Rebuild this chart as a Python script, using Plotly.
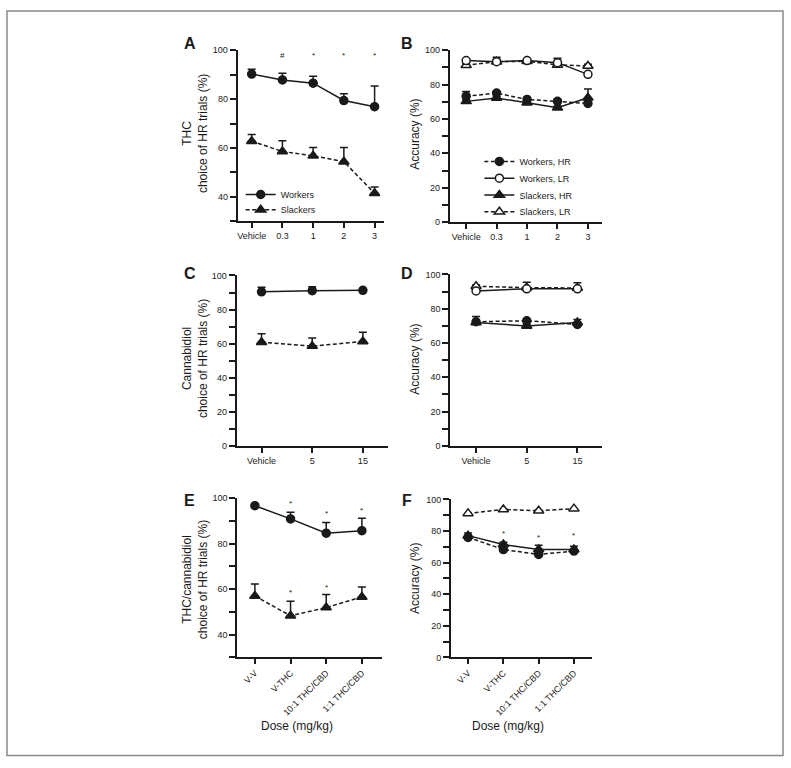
import plotly.graph_objects as go

W, H = 791, 768

# ---------------- data ----------------
thc_doses = ["Vehicle", "0.3", "1", "2", "3"]
a_workers = [90.2, 87.8, 86.5, 79.4, 76.9]
a_workers_err = [2.0, 2.7, 2.8, 2.8, 8.4]
a_slackers = [62.8, 58.6, 56.8, 54.4, 41.5]
a_slackers_err = [2.7, 4.4, 3.4, 5.8, 2.6]
a_sig = ["#", "*", "*", "*"]
a_sig_doses = ["0.3", "1", "2", "3"]

b_workers_hr = [73.2, 75.0, 71.3, 70.2, 69.0]
b_workers_hr_err = [2.7, 1.0, 1.0, 1.2, 0.0]
b_workers_lr = [93.9, 93.3, 93.9, 92.7, 85.9]
b_workers_lr_err = [0.8, 2.5, 1.0, 2.5, 0.0]
b_slackers_hr = [70.2, 72.1, 69.4, 66.5, 72.3]
b_slackers_hr_err = [1.0, 1.0, 1.0, 1.0, 5.1]
b_slackers_lr = [91.2, 93.3, 93.5, 91.4, 90.8]
b_slackers_lr_err = [1.0, 1.2, 1.0, 1.5, 1.0]

cbd_doses = ["Vehicle", "5", "15"]
c_workers = [90.4, 91.1, 91.3]
c_workers_err = [2.7, 2.3, 0.0]
c_slackers = [60.9, 58.6, 61.3]
c_slackers_err = [5.0, 4.8, 5.4]

d_workers_lr = [90.4, 91.6, 91.6]
d_slackers_lr = [93.1, 92.3, 92.1]
d_slackers_lr_err = [0.8, 3.1, 3.1]
d_workers_hr = [72.4, 73.0, 70.8]
d_slackers_hr = [72.0, 69.9, 72.0]
d_slackers_hr_err = [3.4, 1.0, 1.7]

combo = ["V-V", "V-THC", "10:1 THC/CBD", "1:1 THC/CBD"]
e_workers = [96.7, 90.9, 84.6, 85.7]
e_workers_err = [0.0, 2.9, 4.7, 5.5]
e_slackers = [57.0, 48.3, 51.9, 56.6]
e_slackers_err = [5.3, 6.4, 5.7, 4.4]
e_sig_w = ["V-THC", "10:1 THC/CBD", "1:1 THC/CBD"]
e_sig_w_y = [97.7, 93.1, 94.8]
e_sig_s = ["V-THC", "10:1 THC/CBD"]
e_sig_s_y = [58.4, 60.7]

f_slackers_lr = [91.2, 93.7, 92.9, 94.2]
f_workers_hr = [76.0, 68.3, 65.2, 67.3]
f_slackers_hr = [77.1, 71.5, 68.3, 68.3]
f_slackers_hr_err = [1.6, 1.4, 2.7, 2.1]
f_sig = ["V-THC", "10:1 THC/CBD", "1:1 THC/CBD"]
f_sig_y = [78.7, 76.0, 77.3]

# ---------------- helpers ----------------
FONT = "Liberation Sans, Arial, Helvetica, sans-serif"
BLACK = "#1a1a1a"
DASH = "4px,2.5px"


def px2x(p):
    return p / W


def px2y(p):
    return 1 - p / H


def dx(p0, p1):
    return [px2x(p0), px2x(p1)]


def dy(top, bottom):
    return [px2y(bottom), px2y(top)]


fig = go.Figure()


def add(xa, ya, x, y, err=None, filled=True, symbol="circle", dash="solid",
        size=8):
    mk = dict(symbol=symbol, size=size,
              color=BLACK if filled else "white",
              line=dict(color=BLACK, width=1.5))
    ey = None
    if err is not None:
        ey = dict(type="data", symmetric=False, array=err,
                  arrayminus=[0] * len(err), color=BLACK, thickness=1.5, width=4)
    fig.add_trace(go.Scatter(
        x=x, y=y, mode="lines+markers", xaxis=xa, yaxis=ya,
        line=dict(color=BLACK, width=1.5, dash=dash), marker=mk, error_y=ey,
        showlegend=False, cliponaxis=False, hoverinfo="skip"))


# Panel A
add("x", "y", thc_doses, a_workers, a_workers_err, True, "circle", "solid")
add("x", "y", thc_doses, a_slackers, a_slackers_err, True, "triangle-up", DASH, size=9)
# Panel B
add("x2", "y2", thc_doses, b_slackers_lr, b_slackers_lr_err, False, "triangle-up", DASH, size=9)
add("x2", "y2", thc_doses, b_workers_lr, b_workers_lr_err, False, "circle", "solid")
add("x2", "y2", thc_doses, b_slackers_hr, b_slackers_hr_err, True, "triangle-up", "solid", size=9)
add("x2", "y2", thc_doses, b_workers_hr, b_workers_hr_err, True, "circle", DASH)
# Panel C
add("x3", "y3", cbd_doses, c_workers, c_workers_err, True, "circle", "solid")
add("x3", "y3", cbd_doses, c_slackers, c_slackers_err, True, "triangle-up", DASH, size=9)
# Panel D
add("x4", "y4", cbd_doses, d_slackers_lr, d_slackers_lr_err, False, "triangle-up", DASH, size=9)
add("x4", "y4", cbd_doses, d_workers_lr, None, False, "circle", "solid")
add("x4", "y4", cbd_doses, d_slackers_hr, d_slackers_hr_err, True, "triangle-up", "solid", size=9)
add("x4", "y4", cbd_doses, d_workers_hr, None, True, "circle", DASH)
# Panel E
add("x5", "y5", combo, e_workers, e_workers_err, True, "circle", "solid")
add("x5", "y5", combo, e_slackers, e_slackers_err, True, "triangle-up", DASH, size=9)
# Panel F
add("x6", "y6", combo, f_slackers_lr, None, False, "triangle-up", DASH, size=9)
add("x6", "y6", combo, f_slackers_hr, f_slackers_hr_err, True, "triangle-up", "solid", size=9)
add("x6", "y6", combo, f_workers_hr, None, True, "circle", DASH)

# ---------------- legends (one legend box per entry) ----------------
legend_entries = [
    # name, filled, symbol, dash, legend id, x px, y px, axis
    ("Workers", True, "circle", "solid", "legend", 240, 192, "x"),
    ("Slackers", True, "triangle-up", DASH, "legend3", 240, 207.5, "x"),
    ("Workers, HR", True, "circle", DASH, "legend2", 479, 158.5, "x2"),
    ("Workers, LR", False, "circle", "solid", "legend4", 479, 175.5, "x2"),
    ("Slackers, HR", True, "triangle-up", "solid", "legend5", 479, 192.5, "x2"),
    ("Slackers, LR", False, "triangle-up", DASH, "legend6", 479, 209.5, "x2"),
]
legend_layout = {}
for nm, filled, sym, ds, lid, lx, ly, xa in legend_entries:
    fig.add_trace(go.Scatter(
        x=[None], y=[None], mode="lines+markers", xaxis=xa,
        yaxis=xa.replace("x", "y"),
        line=dict(color=BLACK, width=1.5, dash=ds),
        marker=dict(symbol=sym, size=8 if sym == "circle" else 9,
                    color=BLACK if filled else "white",
                    line=dict(color=BLACK, width=1.5)),
        name=nm, legend=lid, showlegend=True))
    legend_layout[lid] = dict(
        x=px2x(lx), y=px2y(ly), xanchor="left", yanchor="middle",
        bgcolor="rgba(0,0,0,0)", font=dict(family=FONT, size=9, color=BLACK),
        tracegroupgap=0, itemwidth=30, borderwidth=0)

# ---------------- axes ----------------
tickfont = dict(family=FONT, size=9, color="#222")


def yax(domain, rng, major, anchor):
    return dict(domain=domain, range=rng, tickvals=major, ticks="outside",
                ticklen=6, tickwidth=1.5, tickcolor=BLACK, showline=True,
                linewidth=2, linecolor=BLACK, showgrid=False, zeroline=False,
                tickfont=tickfont, anchor=anchor, fixedrange=True,
                minor=dict(dtick=10, tick0=0, ticks="outside", ticklen=6,
                           tickwidth=1.5, tickcolor=BLACK, showgrid=False))


def xax(domain, rng, anchor, angle=0):
    return dict(domain=domain, range=rng, type="category", ticks="outside",
                ticklen=5, tickwidth=1.5, tickcolor=BLACK, showline=True,
                linewidth=2, linecolor=BLACK, showgrid=False, zeroline=False,
                tickfont=tickfont, anchor=anchor, tickangle=angle,
                fixedrange=True)


fig.update_layout(
    xaxis=xax(dx(237, 383), [-0.455, 4.29], "y"),
    yaxis=yax(dy(45.7, 219.3), [30, 100], [40, 60, 80, 100], "x"),
    xaxis2=xax(dx(449.3, 601.7), [-0.54, 4.46], "y2"),
    yaxis2=yax(dy(45.7, 220), [0, 100], [0, 20, 40, 60, 80, 100], "x2"),
    xaxis3=xax(dx(236, 387.7), [-0.49, 2.5], "y3"),
    yaxis3=yax(dy(274, 447), [0, 100], [0, 20, 40, 60, 80, 100], "x3"),
    xaxis4=xax(dx(450, 602), [-0.506, 2.49], "y4"),
    yaxis4=yax(dy(273, 446.7), [0, 100], [0, 20, 40, 60, 80, 100], "x4"),
    xaxis5=xax(dx(236.7, 381.7), [-0.49, 3.57], "y5", -45),
    yaxis5=yax(dy(499.7, 661), [30, 100], [40, 60, 80, 100], "x5"),
    xaxis6=xax(dx(450.7, 591.7), [-0.48, 3.51], "y6", -45),
    yaxis6=yax(dy(501, 661), [0, 100], [0, 20, 40, 60, 80, 100], "x6"),
)

annotations = []


def pa(px, py, text, size=12, angle=0):
    annotations.append(dict(
        x=px2x(px), y=px2y(py), xref="paper", yref="paper", text=text,
        showarrow=False, textangle=angle, xanchor="center", yanchor="middle",
        font=dict(family=FONT, size=size, color=BLACK)))


# panel letters
for letter, px, py in [("<b>A</b>", 189, 39), ("<b>B</b>", 407, 39),
                       ("<b>C</b>", 189, 272), ("<b>D</b>", 407, 272),
                       ("<b>E</b>", 189, 502), ("<b>F</b>", 407, 502)]:
    pa(px, py, letter, size=16)

# y-axis titles
pa(195, 130, "THC<br>choice of HR trials (%)", angle=-90)
pa(415, 131, "Accuracy (%)", angle=-90)
pa(195, 358, "Cannabidiol<br>choice of HR trials (%)", angle=-90)
pa(415, 359, "Accuracy (%)", angle=-90)
pa(195, 582, "THC/cannabidiol<br>choice of HR trials (%)", angle=-90)
pa(415, 581, "Accuracy (%)", angle=-90)
# x-axis titles
pa(296, 731, "Dose (mg/kg)")
pa(508, 731, "Dose (mg/kg)")


def sig(xa, ya, cats, xs, ys, texts):
    for xv, yv, t in zip(xs, ys, texts):
        annotations.append(dict(x=cats.index(xv), y=yv, xref=xa, yref=ya,
                                text=t, showarrow=False,
                                font=dict(family=FONT, size=8, color=BLACK)))


sig("x", "y", thc_doses, a_sig_doses, [98] * len(a_sig_doses), a_sig)
sig("x5", "y5", combo, e_sig_w, e_sig_w_y, ["*"] * len(e_sig_w))
sig("x5", "y5", combo, e_sig_s, e_sig_s_y, ["*"] * len(e_sig_s))
sig("x6", "y6", combo, f_sig, f_sig_y, ["*"] * len(f_sig))

fig.update_layout(
    annotations=annotations,
    width=W, height=H, autosize=False,
    margin=dict(l=0, r=0, t=0, b=0),
    paper_bgcolor="white", plot_bgcolor="white",
    hovermode=False,
    font=dict(family=FONT, size=9, color=BLACK),
    shapes=[dict(type="rect", xref="paper", yref="paper",
                 x0=px2x(6), x1=px2x(783), y0=px2y(760.5), y1=px2y(6),
                 line=dict(color="#8a8a8a", width=1.5))],
    **legend_layout,
)

# The page body carries a default 8px margin; remove it so the figure
# occupies the browser window exactly.
fig.write_html("out.html",
               config={"displayModeBar": False, "staticPlot": False},
               post_script="document.body.style.margin='0px';"
                           "document.body.style.overflow='hidden';")
